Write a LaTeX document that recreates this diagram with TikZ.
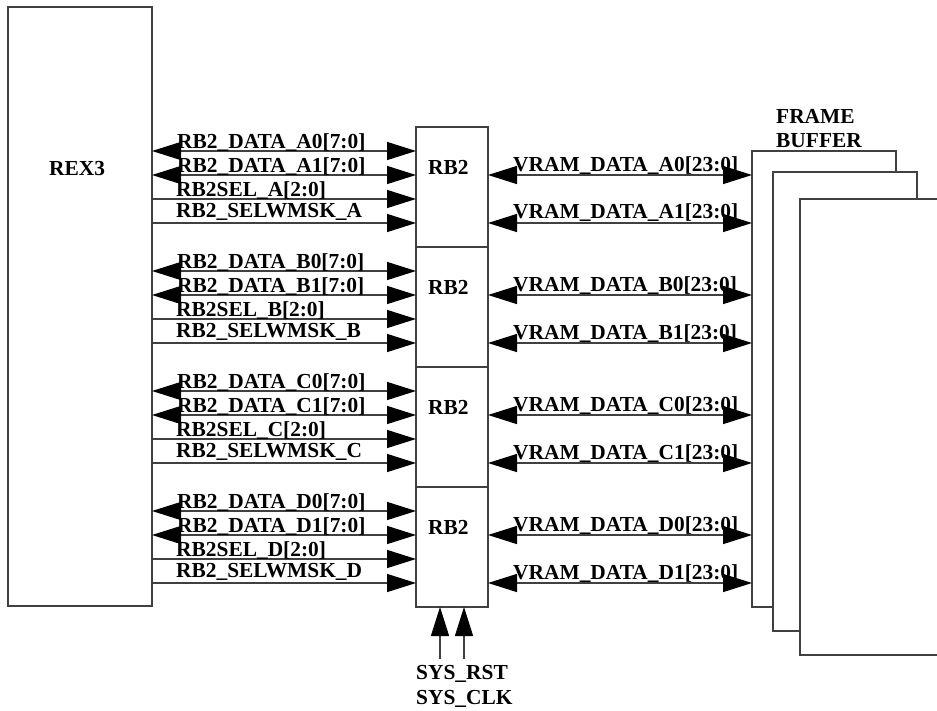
\documentclass[tikz,border=0pt]{standalone}
\usepackage{fontspec}
\setmainfont{Liberation Serif}
\usetikzlibrary{arrows.meta}
\definecolor{ln}{gray}{0.25}
\tikzset{
  box/.style={draw=ln,line width=1.3pt,fill=white,inner sep=0pt,outer sep=0pt,anchor=north west},
  lab/.style={font=\bfseries\fontsize{21.4}{24}\selectfont,text=black,inner sep=0pt,anchor=base west},
  wire/.style={draw=ln,line width=1.3pt,-{Triangle[length=29pt,width=18pt,color=black]}},
  biwire/.style={draw=ln,line width=1.3pt,{Triangle[length=29pt,width=18pt,color=black]}-{Triangle[length=29pt,width=18pt,color=black]}}
}
\begin{document}
\begin{tikzpicture}[x=1pt,y=-1pt]
\useasboundingbox (0,0) rectangle (937,711);
% main blocks
\node[box,minimum width=144pt,minimum height=599pt] (rex) at (8,7) {};
\node[lab] (rexlab) at (49,175.5) {REX3};
\foreach \g/\o in {A/0,B/120,C/240,D/360}{
  \node[box,minimum width=72pt,minimum height=120pt] (rb\g) at (416,127+\o) {};
  \node[lab] (rblab\g) at (428,174.5+\o) {RB2};
}
% frame buffer
\node[box,minimum width=144pt,minimum height=456pt] (fb1) at (752,151) {};
\node[box,minimum width=144pt,minimum height=459pt] (fb2) at (773,172) {};
\coordinate (fbtr) at (938,199);
\coordinate (fbbr) at (938,655);
\coordinate (fbtl) at (800,199);
\coordinate (fbbl) at (800,655);
\fill[white] (fbtl) -- (fbtr) -- (fbbr) -- (fbbl) -- cycle;
\draw[ln,line width=1.3pt] (fbtr) -- (fbtl) -- (fbbl) -- (fbbr);
\node[lab] (fblab1) at (776,124) {FRAME};
\node[lab] (fblab2) at (776,148) {BUFFER};
% left signals
\foreach \g/\o in {A/0,B/120,C/240,D/360}{
  \draw[biwire] (rex.east |- 0,151+\o) -- (rb\g.west |- 0,151+\o);
  \draw[biwire] (rex.east |- 0,175+\o) -- (rb\g.west |- 0,175+\o);
  \draw[wire] (rex.east |- 0,199+\o) -- (rb\g.west |- 0,199+\o);
  \draw[wire] (rex.east |- 0,223+\o) -- (rb\g.west |- 0,223+\o);
  \node[lab] (d0\g) at (177,148.5+\o) {RB2\_DATA\_\g0[7:0]};
  \node[lab] (d1\g) at (177,172.5+\o) {RB2\_DATA\_\g1[7:0]};
  \node[lab] (s\g) at (176,196.5+\o) {RB2SEL\_\g[2:0]};
  \node[lab] (m\g) at (176,217.5+\o) {RB2\_SELWMSK\_\g};
  % right signals
  \draw[biwire] (rb\g.east |- 0,175+\o) -- (fb1.west |- 0,175+\o);
  \draw[biwire] (rb\g.east |- 0,223+\o) -- (fb1.west |- 0,223+\o);
  \node[lab] (v0\g) at (513,171.5+\o) {VRAM\_DATA\_\g0[23:0]};
  \node[lab] (v1\g) at (513,219+\o) {VRAM\_DATA\_\g1[23:0]};
}
% system inputs
\node[lab] (rst) at (416,679) {SYS\_RST};
\node[lab] (clk) at (416,704) {SYS\_CLK};
\coordinate (rstend) at (440,659);
\coordinate (clkend) at (464,659);
\draw[wire] (rstend) -- (rstend |- rbD.south);
\draw[wire] (clkend) -- (clkend |- rbD.south);
\end{tikzpicture}
\end{document}
